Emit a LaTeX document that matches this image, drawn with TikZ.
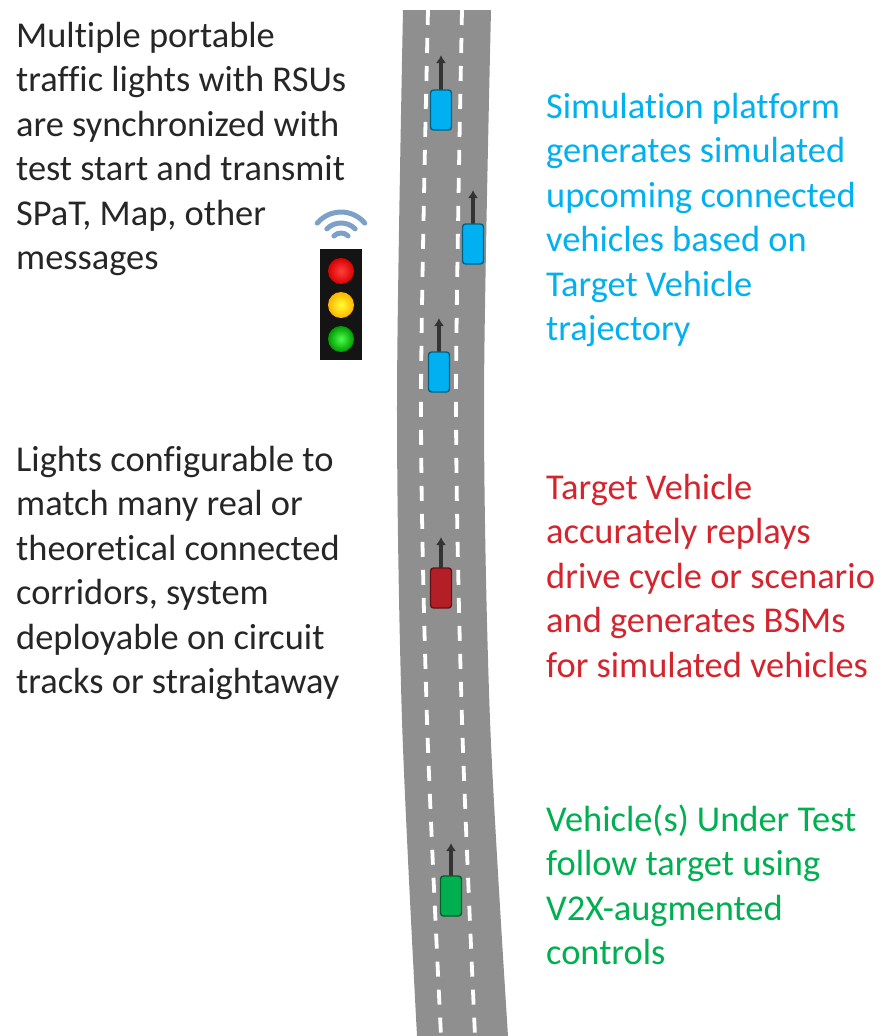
\documentclass[tikz,border=0pt]{standalone}
\usepackage{fontspec}
\setmainfont[Ligatures=NoCommon]{Carlito}
\usetikzlibrary{arrows.meta}

\definecolor{roadgray}{RGB}{143,143,143}
\definecolor{simblue}{RGB}{0,176,240}
\definecolor{targetred}{RGB}{212,36,46}
\definecolor{vutgreen}{RGB}{0,176,80}
\definecolor{textgray}{RGB}{38,38,38}
\definecolor{wifiblue}{RGB}{125,160,200}

% base anchor of a multi-line node sits on its last line
\tikzset{
  label text/.style={anchor=base west, align=left, inner sep=0pt,
    font=\fontsize{36.4}{44.5}\selectfont},
  car/.style={draw=#1!55!black, fill=#1, line width=1.4pt, rounded corners=3pt,
    minimum width=21pt, minimum height=40pt, inner sep=0pt},
  heading/.style={line width=4pt, draw=black!80, -{Latex[length=8pt,width=10pt]}},
  lane line/.style={white, line width=3.8pt, dash pattern=on 15pt off 13pt},
  wifi/.style={wifiblue, line width=5pt, line cap=round},
}

\begin{document}
\begin{tikzpicture}[x=1pt, y=-1pt, line join=round]
    \useasboundingbox (0,0) rectangle (881,1036);

    % road and lane markings
    \fill[roadgray] plot[smooth] coordinates {(403,10) (397,400) (402,720) (417,1036)}
        -- plot[smooth] coordinates {(508,1036) (490,720) (484,400) (491,10)} -- cycle;
    \draw[lane line] plot[smooth] coordinates {(428,10) (421,400) (427,720) (441,1036)};
    \draw[lane line] plot[smooth] coordinates {(462,10) (456,400) (462,720) (475,1036)};

    % vehicles, each with its heading
    \coordinate (tip1) at (441,55);
    \coordinate (tip2) at (473,190);
    \coordinate (tip3) at (439,318);
    \coordinate (tip4) at (441,537);
    \coordinate (tip5) at (451,843);
    \draw[heading] (441,100) -- (tip1);
    \draw[heading] (473,230) -- (tip2);
    \draw[heading] (439,360) -- (tip3);
    \draw[heading] (441,575) -- (tip4);
    \draw[heading] (451,885) -- (tip5);
    \node[car=simblue] (sim1) at (441,110) {};
    \node[car=simblue] (sim2) at (473,244) {};
    \node[car=simblue] (sim3) at (439,372) {};
    \node[car=targetred!85!black] (target) at (441,588) {};
    \node[car=vutgreen] (vut) at (451,896) {};

    % portable signal with RSU
    \fill[black!92] (320,249) rectangle (362,360);
    \shade[inner color=red!75!white, outer color=red!85!black] (341,271) circle (13pt);
    \shade[inner color=yellow!80!white, outer color=orange!60!yellow] (341,305) circle (13pt);
    \shade[inner color=green!70!white, outer color=green!60!black] (341,339) circle (13pt);
    \draw[wifi] (341,243) ++(45:10pt) arc[start angle=45, end angle=135, radius=10pt];
    \draw[wifi] (341,243) ++(45:20pt) arc[start angle=45, end angle=135, radius=20pt];
    \draw[wifi] (341,243) ++(40:31pt) arc[start angle=40, end angle=140, radius=31pt];

    % descriptions
    \node[label text, textgray] (signals) at (16,269.5)
        {Multiple portable\\traffic lights with RSUs\\are synchronized with\\test start and transmit\\SPaT, Map, other\\messages};
    \node[label text, textgray] (corridors) at (16,693.5)
        {Lights configurable to\\match many real or\\theoretical connected\\corridors, system\\deployable on circuit\\tracks or straightaway};
    \node[label text, simblue] (simtext) at (546,340.5)
        {Simulation platform\\generates simulated\\upcoming connected\\vehicles based on\\Target Vehicle\\trajectory};
    \node[label text, targetred] (targettext) at (546,677)
        {Target Vehicle\\accurately replays\\drive cycle or scenario\\and generates BSMs\\for simulated vehicles};
    \node[label text, vutgreen] (vuttext) at (546,964.5)
        {Vehicle(s) Under Test\\follow target using\\V2X-augmented\\controls};
\end{tikzpicture}
\end{document}
